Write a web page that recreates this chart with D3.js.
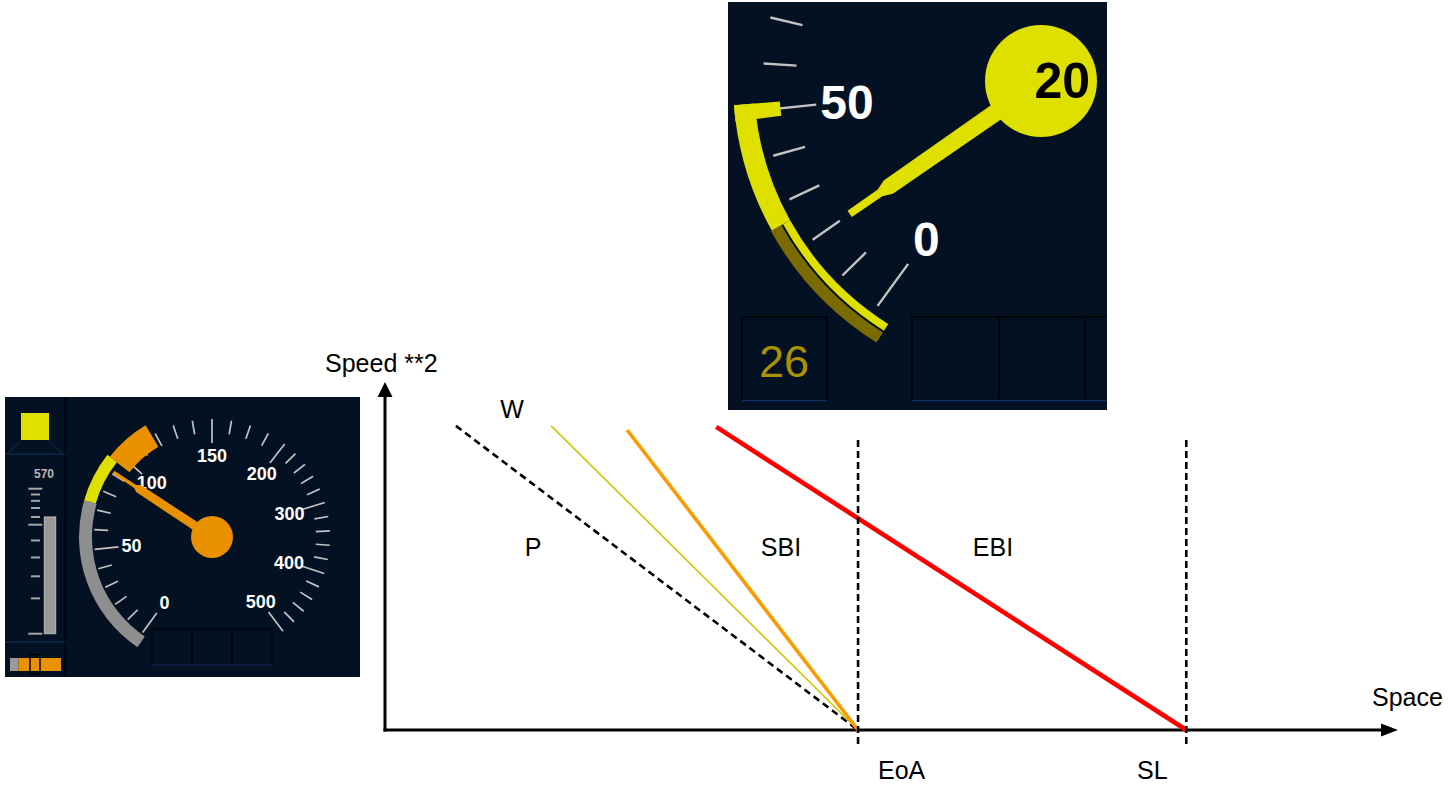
<!DOCTYPE html>
<html><head><meta charset="utf-8">
<script src="https://cdn.jsdelivr.net/npm/d3@7/dist/d3.min.js"></script>
<style>
body{margin:0;background:#fff;}
svg{display:block;}
text{font-family:"Liberation Sans",Arial,Helvetica,sans-serif;}
</style>
</head><body>
<svg id="c" width="1448" height="785"></svg>
<script>
// ================= DATA =================
// braking-curve diagram (space units 0..100, speed^2 units 0..100)
const curveNames      = ["P", "W", "SBI", "EBI"];
const curveStartSpace = [7.0, 16.4, 23.9, 32.7];
const curveStartSpeed2= [87.4, 87.4, 86.2, 87.1];
const curveEndSpace   = [46.7, 46.7, 46.7, 79.1];
const curveEndSpeed2  = [0, 0, 0, 0];
const markerNames     = ["EoA", "SL"];
const markerSpace     = [46.7, 79.1];
const axisTitles      = ["Space", "Speed **2"];

// speed dial (DMI)
const dialBreakValues = [0, 150, 200, 500];
const dialBreakAngles = [-144, 0, 38, 143];
const dialTickValues  = [0,10,20,30,40,50,60,70,80,90,100,110,120,130,140,150,162.5,175,187.5,
                         200,220,240,260,280,300,320,340,360,380,400,420,440,460,480,500];
const dialLabelValues = [0, 50, 100, 150, 200, 300, 400, 500];
const mainSpeed       = 91;
const mainGreyBand    = [-2, 73];
const mainYellowBand  = [73, 96];
const mainOrangeBand  = [96, 118];
const zoomSpeed       = 20;
const zoomReleaseSpeed= 26;
const zoomTargetSpeed = 50;
const zoomStartSpeed  = -4;
const targetDistance  = 570;
const distanceBarValue= 200;
const distanceTicks   = [0, 20, 40, 60, 80, 100, 200, 400, 600, 800, 1000];
const distanceLongTicks = [0, 100, 1000];

// ================= SETUP =================
const svg = d3.select("#c");
const FONT = '"Liberation Sans",Arial,Helvetica,sans-serif';
const NAVY = "#031122", YEL = "#dfdf00", ORA = "#ea9100", TICK = "#c3c3c3";
const rad = d => d * Math.PI / 180;
const polar = (cx, cy, r, deg) => [cx + r * Math.sin(rad(deg)), cy - r * Math.cos(rad(deg))];
const angleScale = d3.scaleLinear().domain(dialBreakValues).range(dialBreakAngles);

// ================= MAIN DIAGRAM =================
const x = d3.scaleLinear().domain([0, 100]).range([385, 1398]);
const y = d3.scaleLinear().domain([0, 100]).range([730, 382]);
const chart = svg.append("g");

// axes
chart.append("line").attr("x1", x(0) - 1.5).attr("x2", x(100) - 10).attr("y1", y(0)).attr("y2", y(0))
  .attr("stroke", "#000").attr("stroke-width", 3);
chart.append("line").attr("x1", x(0)).attr("x2", x(0)).attr("y1", y(0) + 1.5).attr("y2", y(100) + 10)
  .attr("stroke", "#000").attr("stroke-width", 3);
chart.append("path").attr("d", `M${x(100)},${y(0)}L${x(100)-17},${y(0)-6.5}L${x(100)-17},${y(0)+6.5}Z`).attr("fill", "#000");
chart.append("path").attr("d", `M${x(0)},${y(100)}L${x(0)-7.5},${y(100)+15}L${x(0)+7.5},${y(100)+15}Z`).attr("fill", "#000");

// curves
const curveStyle = {
  P:   {stroke: "#000", w: 2.6, dash: "7,4.5"},
  W:   {stroke: "#c9c900", w: 1.6, dash: null},
  SBI: {stroke: "#ff9900", w: 3.6, dash: null},
  EBI: {stroke: "#ff0000", w: 4.6, dash: null}
};
const lineGen = d3.line().x(d => x(d[0])).y(d => y(d[1]));
const curves = curveNames.map((n, i) => ({name: n,
  pts: [[curveStartSpace[i], curveStartSpeed2[i]], [curveEndSpace[i], curveEndSpeed2[i]]]}));
chart.selectAll("path.curve").data(curves).join("path").attr("class", "curve")
  .attr("d", d => lineGen(d.pts)).attr("fill", "none")
  .attr("stroke", d => curveStyle[d.name].stroke)
  .attr("stroke-width", d => curveStyle[d.name].w)
  .attr("stroke-dasharray", d => curveStyle[d.name].dash);

// vertical markers
chart.selectAll("line.marker").data(markerSpace).join("line").attr("class", "marker")
  .attr("x1", d => x(d)).attr("x2", d => x(d)).attr("y1", y(83.3)).attr("y2", y(-4.3))
  .attr("stroke", "#000").attr("stroke-width", 2.6).attr("stroke-dasharray", "7,4");

// texts
const tStyle = s => s.attr("font-family", FONT).attr("font-size", 25).attr("fill", "#000");
chart.append("text").text(axisTitles[1]).attr("x", x(-5.92)).attr("y", y(102.87)).call(tStyle);
chart.append("text").text(axisTitles[0]).attr("x", x(97.43)).attr("y", y(6.9)).call(tStyle);
const curveLabelPos = {W: [12.54, 89.66], P: [14.61, 50.0], SBI: [39.09, 50.0], EBI: [60.02, 50.0]};
chart.selectAll("text.clab").data(curveNames).join("text").attr("class", "clab")
  .text(d => d).attr("x", d => x(curveLabelPos[d][0])).attr("y", d => y(curveLabelPos[d][1]))
  .attr("text-anchor", "middle").call(tStyle);
const markerLabelPos = {EoA: [48.67, -14.2], SL: [74.24, -14.2]};
chart.selectAll("text.mlab").data(markerNames).join("text").attr("class", "mlab")
  .text(d => d).attr("x", d => x(markerLabelPos[d][0])).attr("y", d => y(markerLabelPos[d][1]))
  .call(tStyle);

// ================= DIAL HELPERS =================
function drawTicks(g, c) {
  g.selectAll("line.dt").data(dialTickValues).join("line").attr("class", "dt")
    .each(function (v) {
      const a = angleScale(v);
      const long = dialLabelValues.includes(v);
      const p1 = polar(c.cx, c.cy, long ? c.rLongIn : c.rShortIn, a);
      const p2 = polar(c.cx, c.cy, c.rOut, a);
      d3.select(this).attr("x1", p1[0]).attr("y1", p1[1]).attr("x2", p2[0]).attr("y2", p2[1]);
    })
    .attr("stroke", TICK).attr("stroke-width", c.tickW);
}
function drawLabels(g, c) {
  const pos = d => polar(c.cx, c.cy, c.labelR, angleScale(d));
  const inside = d => !c.box || (pos(d)[0] > c.box[0] + 20 && pos(d)[0] < c.box[2] - 20 &&
                                 pos(d)[1] > c.box[1] + 20 && pos(d)[1] < c.box[3] - 20);
  g.selectAll("text.dl").data(dialLabelValues.filter(inside)).join("text").attr("class", "dl")
    .text(d => d)
    .attr("x", d => pos(d)[0])
    .attr("y", d => pos(d)[1] + c.labelSize * 0.36)
    .attr("text-anchor", "middle").attr("font-family", FONT).attr("font-weight", "bold")
    .attr("font-size", c.labelSize).attr("fill", "#fff");
}
function band(g, c, v0, v1, rIn, rOut, color, a0extra = 0, a1extra = 0) {
  g.append("path").attr("transform", `translate(${c.cx},${c.cy})`)
    .attr("d", d3.arc().innerRadius(rIn).outerRadius(rOut)
      .startAngle(rad(angleScale(v0) + a0extra)).endAngle(rad(angleScale(v1) + a1extra))())
    .attr("fill", color);
}
function needle(g, c, v, profile, color) {
  const a = angleScale(v);
  const n = [Math.cos(rad(a)), Math.sin(rad(a))];
  const left = profile.map(([r, hw]) => {
    const p = polar(c.cx, c.cy, r, a);
    return [p[0] - n[0] * hw, p[1] - n[1] * hw];
  });
  const right = profile.map(([r, hw]) => {
    const p = polar(c.cx, c.cy, r, a);
    return [p[0] + n[0] * hw, p[1] + n[1] * hw];
  }).reverse();
  g.append("path").attr("d", d3.line()(left.concat(right)) + "Z").attr("fill", color);
}

// ================= LEFT DMI PANEL =================
const lp = svg.append("g");
lp.append("rect").attr("x", 5).attr("y", 397).attr("width", 355).attr("height", 280).attr("fill", NAVY);
// left column
lp.append("line").attr("x1", 65).attr("x2", 65).attr("y1", 397).attr("y2", 677).attr("stroke", "#000810").attr("stroke-width", 2);
lp.selectAll("line.sep").data([454, 642]).join("line").attr("class", "sep")
  .attr("x1", 5).attr("x2", 65).attr("y1", d => d).attr("y2", d => d).attr("stroke", "#11294c").attr("stroke-width", 1.5);
lp.append("path").attr("d", "M8,453L21,441M62,453L49,441").attr("stroke", "#0d2140").attr("stroke-width", 1.2);
lp.append("rect").attr("x", 21).attr("y", 413).attr("width", 28).attr("height", 27).attr("fill", YEL);
lp.append("text").text(targetDistance).attr("x", 54).attr("y", 478).attr("text-anchor", "end")
  .attr("font-family", FONT).attr("font-size", 12).attr("font-weight", "bold").attr("fill", "#b8b8b8");
const lowPow = d3.scalePow().exponent(0.7).domain([0, 100]).range([633.7, 524.7]);
const highPow = d3.scalePow().exponent(0.7).domain([0, 900]).range([524.7, 488.7]);
const distY = d => d <= 100 ? lowPow(d) : highPow(d - 100);
lp.selectAll("line.dtk").data(distanceTicks).join("line").attr("class", "dtk")
  .attr("x1", d => distanceLongTicks.includes(d) ? 28.3 : 31).attr("x2", d => distanceLongTicks.includes(d) ? 42.3 : 40)
  .attr("y1", d => distY(d)).attr("y2", d => distY(d)).attr("stroke", "#a6a6a6").attr("stroke-width", 2);
lp.append("rect").attr("x", 44.3).attr("y", distY(distanceBarValue)).attr("width", 11.4)
  .attr("height", distY(0) - distY(distanceBarValue)).attr("fill", "#9a9a9a").attr("stroke", "#bdbdbd").attr("stroke-width", 1);
lp.append("rect").attr("x", 10).attr("y", 658).attr("width", 8.5).attr("height", 13).attr("fill", "#9a9a9a");
lp.append("rect").attr("x", 18.5).attr("y", 658).attr("width", 42.5).attr("height", 13).attr("fill", ORA);
lp.append("rect").attr("x", 30).attr("y", 654.5).attr("width", 10).attr("height", 19.5).attr("fill", "none").attr("stroke", "#000").attr("stroke-width", 1.5);
// bottom boxes
lp.selectAll("rect.bx").data([152, 192, 232]).join("rect").attr("class", "bx")
  .attr("x", d => d).attr("y", 629).attr("width", 40).attr("height", 36).attr("fill", "none").attr("stroke", "#000611").attr("stroke-width", 1.5);
lp.append("line").attr("x1", 152).attr("x2", 272).attr("y1", 665).attr("y2", 665).attr("stroke", "#14336a").attr("stroke-width", 1.2);

const Lc = {cx: 212, cy: 537, rOut: 118, rShortIn: 104, rLongIn: 94, tickW: 1.7, labelR: 81, labelSize: 18};
drawTicks(lp, Lc);
drawLabels(lp, Lc);
band(lp, Lc, mainGreyBand[0], mainGreyBand[1], 120, 133, "#8e8e8e");
band(lp, Lc, mainYellowBand[0], mainYellowBand[1], 121, 133, YEL);
band(lp, Lc, mainOrangeBand[0], mainOrangeBand[1], 105, 130, ORA);
needle(lp, Lc, mainSpeed, [[0, 4.6], [88, 4.2], [92, 1.8], [118, 1.6]], ORA);
lp.append("circle").attr("cx", Lc.cx).attr("cy", Lc.cy).attr("r", 21).attr("fill", ORA);

// ================= TOP (ZOOMED) DMI PANEL =================
const tp = svg.append("g");
svg.append("defs").append("clipPath").attr("id", "tclip").append("rect")
  .attr("x", 728).attr("y", 2).attr("width", 379).attr("height", 408);
tp.attr("clip-path", "url(#tclip)");
tp.append("rect").attr("x", 728).attr("y", 2).attr("width", 379).attr("height", 408).attr("fill", NAVY);
// boxes
tp.selectAll("rect.tb").data([[742, 85], [912, 87], [999, 86], [1085, 86]]).join("rect").attr("class", "tb")
  .attr("x", d => d[0]).attr("y", 317).attr("width", d => d[1]).attr("height", 83)
  .attr("fill", "none").attr("stroke", "#000509").attr("stroke-width", 2);
tp.selectAll("line.tbl").data([[742, 827], [912, 1107]]).join("line").attr("class", "tbl")
  .attr("x1", d => d[0]).attr("x2", d => d[1]).attr("y1", 400.5).attr("y2", 400.5).attr("stroke", "#14306a").attr("stroke-width", 1.5);
tp.append("text").text(zoomReleaseSpeed).attr("x", 784).attr("y", 377).attr("text-anchor", "middle")
  .attr("font-family", FONT).attr("font-size", 45).attr("fill", "#a99300");

const Tc = {cx: 1041, cy: 81, rOut: 278, rShortIn: 245, rLongIn: 226, tickW: 2.4, labelR: 195, labelSize: 48,
            box: [728, 2, 1107, 410]};
drawTicks(tp, Tc);
drawLabels(tp, Tc);
// release-speed / permitted bands
band(tp, Tc, zoomStartSpeed, zoomReleaseSpeed, 297, 309, "#7a6b00");
band(tp, Tc, zoomStartSpeed, zoomReleaseSpeed, 287, 295, YEL);
band(tp, Tc, zoomReleaseSpeed, zoomTargetSpeed, 287, 308, YEL, 0, 1.5);
band(tp, Tc, zoomTargetSpeed, zoomTargetSpeed, 262, 308, YEL, -1.6, 1.5);
needle(tp, Tc, zoomSpeed, [[0, 9], [186, 8], [196, 4], [233, 3.8]], YEL);
tp.append("circle").attr("cx", Tc.cx).attr("cy", Tc.cy).attr("r", 56).attr("fill", YEL);
tp.append("text").text(zoomSpeed).attr("x", 1090).attr("y", 98).attr("text-anchor", "end")
  .attr("font-family", FONT).attr("font-weight", "bold").attr("font-size", 50).attr("fill", "#000");
</script>
</body></html>
